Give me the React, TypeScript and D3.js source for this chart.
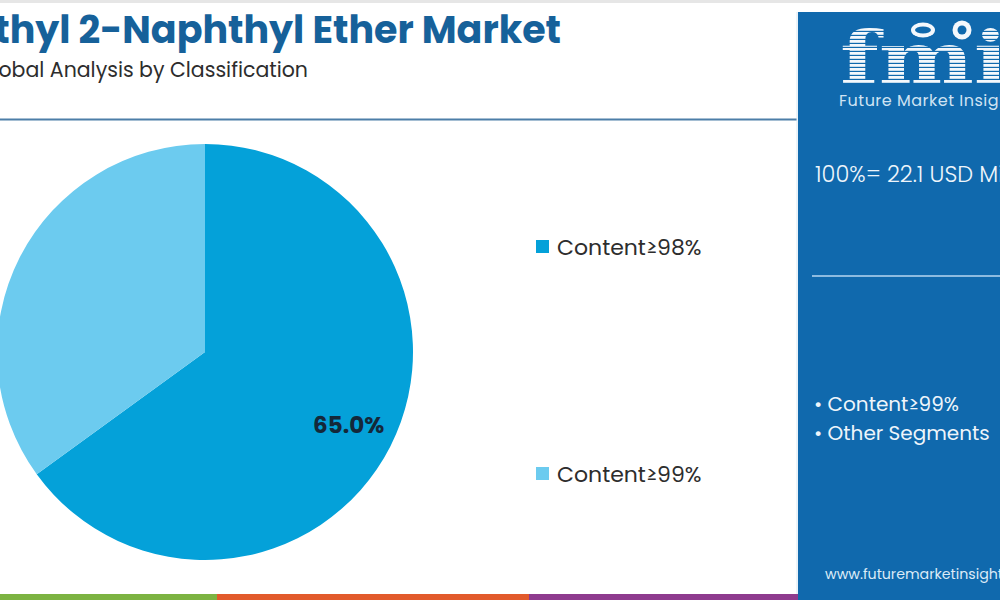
import React from "react";
import * as d3 from "d3";

const segments = ["Content≥98%", "Content≥99%"];
const shares = [65.0, 35.0];
const sliceColors = ["#04a1d9", "#6ccbef"];
const sideSegments = ["Content≥99%", "Other Segments"];
const totalLabel = "100%= 22.1 USD Million";
const bottomBands = ["#7cb342", "#e25a2b", "#8e3b8e"];

const W = 1000;
const H = 600;

const App = () => {
  const cx = 205;
  const cy = 352;
  const r = 208;

  const pie = d3
    .pie<number>()
    .sort(null)
    .value((d) => d);
  const arcs = pie(shares);
  const arc = d3.arc<d3.PieArcDatum<number>>().innerRadius(0).outerRadius(r);
  const labelArc = d3
    .arc<d3.PieArcDatum<number>>()
    .innerRadius(r * 0.775)
    .outerRadius(r * 0.775);

  const legendY = d3.scalePoint<string>().domain(segments).range([247, 474]);
  const bandX = d3.scaleOrdinal<number, number>().domain([0, 1, 2]).range([0, 217, 529]);
  const bandEnd = [217, 529, 798];

  const font = "Poppins, 'Open Sans', Lato, sans-serif";

  return (
    <svg
      width={W}
      height={H}
      style={{ position: "absolute", left: 0, top: 0, background: "#fff" }}
      fontFamily={font}
    >
      <defs>
        <pattern id="stripes" width="4" height="4" patternUnits="userSpaceOnUse">
          <rect width="4" height="4" fill="#1069ad" />
          <rect width="4" height="2.8" fill="#f4f8fc" />
        </pattern>
      </defs>

      <rect x={0} y={0} width={W} height={3} fill="#e6e6e6" />

      {/* heading */}
      <text x={561} y={43} textAnchor="end" fontSize={38} fontWeight={700} fill="#16619a">
        Methyl 2-Naphthyl Ether Market
      </text>
      <text x={308} y={77} textAnchor="end" fontSize={20.5} fill="#2d2d2d">
        Global Analysis by Classification
      </text>
      <line x1={0} x2={797} y1={119.5} y2={119.5} stroke="#4c7ea8" strokeWidth={2} />

      {/* pie */}
      <g transform={`translate(${cx},${cy})`}>
        {arcs.map((a, i) => (
          <path key={segments[i]} d={arc(a) ?? ""} fill={sliceColors[i]} />
        ))}
        {arcs
          .filter((a) => a.data >= 50)
          .map((a) => {
            const [lx, ly] = labelArc.centroid(a);
            return (
              <text
                key="lbl"
                x={lx}
                y={ly}
                dy="0.35em"
                textAnchor="middle"
                fontSize={23}
                fontWeight={700}
                fill="#14283a"
              >
                {a.data.toFixed(1)}%
              </text>
            );
          })}
      </g>

      {/* legend */}
      {segments.map((s, i) => (
        <g key={s} transform={`translate(536,${legendY(s)})`}>
          <rect x={0} y={-7} width={13} height={13} fill={sliceColors[i]} />
          <text x={21} y={0} dy="0.35em" fontSize={22} fill="#2d2d2d">
            {s}
          </text>
        </g>
      ))}

      {/* side panel */}
      <rect x={798} y={12} width={202} height={588} fill="#1069ad" />
      <line x1={797} x2={797} y1={12} y2={600} stroke="#d6e6f2" strokeWidth={1} />
      <text
        x={840}
        y={84}
        fontSize={72}
        fontWeight={700}
        textLength={168}
        lengthAdjust="spacingAndGlyphs"
        fontFamily="'DejaVu Serif', serif"
        fill="url(#stripes)"
      >
        fmi
      </text>
      <ellipse cx={923} cy={30} rx={12} ry={7.5} fill="#f4f8fc" />
      <ellipse cx={923} cy={30} rx={8} ry={3.5} fill="#1069ad" />
      <circle cx={962} cy={30} r={9.5} fill="#f4f8fc" />
      <circle cx={962} cy={30} r={4.5} fill="#1069ad" />
      <text x={839} y={106} fontSize={16} letterSpacing={0.5} fill="#cfe3f3">
        Future Market Insights
      </text>
      <text x={815} y={182} fontSize={22.5} fontWeight={300} fill="#eef5fb">
        {totalLabel}
      </text>
      <line x1={812} x2={1000} y1={276} y2={276} stroke="#8dbbe0" strokeWidth={2} />
      {sideSegments.map((s, i) => (
        <text key={s} x={814} y={411 + i * 29} fontSize={20} fill="#eef5fb">
          • {s}
        </text>
      ))}
      <text x={825} y={579} fontSize={14.2} fill="#dcebf7">
        www.futuremarketinsights.com
      </text>

      {/* bottom stripe */}
      {bottomBands.map((c, i) => (
        <rect key={c} x={bandX(i)} y={594} width={bandEnd[i] - bandX(i)} height={6} fill={c} />
      ))}
    </svg>
  );
};

export default App;
